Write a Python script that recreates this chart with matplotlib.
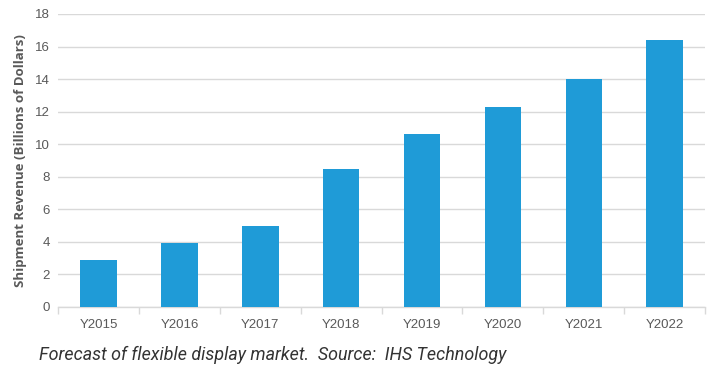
import numpy as np
import matplotlib
matplotlib.use("Agg")
import matplotlib.pyplot as plt
from matplotlib.ticker import FixedLocator

years = ["Y2015", "Y2016", "Y2017", "Y2018", "Y2019", "Y2020", "Y2021", "Y2022"]
revenue = [2.9, 3.9, 5.0, 8.5, 10.6, 12.3, 14.0, 16.4]

bar_color = "#1f9bd7"
grid_color = "#d9d9d9"
text_color = "#595959"

fig = plt.figure(figsize=(7.1, 3.68), dpi=100)
ax = fig.add_axes([0.082, 0.166, 0.911, 0.796])

x = np.arange(len(years))
ax.bar(x, revenue, width=0.45, color=bar_color, zorder=3)

ax.set_xlim(-0.5, len(years) - 0.5)
ax.set_ylim(0, 18)
ax.set_yticks(np.arange(0, 19, 2))
ax.set_xticks(x)
ax.set_xticklabels(years)
ax.xaxis.set_minor_locator(FixedLocator(np.arange(-0.5, len(years), 1)))

ax.grid(axis="y", color=grid_color, linewidth=1, zorder=0)
for s in ["top", "right", "left"]:
    ax.spines[s].set_visible(False)
ax.spines["bottom"].set_color(grid_color)
ax.spines["bottom"].set_linewidth(1)

ax.tick_params(axis="y", length=0, labelsize=9.5, labelcolor=text_color, pad=6)
ax.tick_params(axis="x", which="major", length=0, labelsize=9.5, labelcolor=text_color, pad=9)
ax.tick_params(axis="x", which="minor", length=5, color=grid_color, width=1)
for lab in ax.get_xticklabels() + ax.get_yticklabels():
    lab.set_family("Liberation Sans")

ax.set_ylabel("Shipment Revenue (Billions of Dollars)", fontsize=9.5, fontweight="bold",
              color=text_color, family="Open Sans", labelpad=6)

# caption under the chart
fig.text(0.055, 0.022, "Forecast of flexible display market.  Source:  IHS Technology",
         fontsize=12.9, style="italic", color="#333333", va="baseline",
         family=["Roboto", "DejaVu Sans"])

fig.savefig("out.png", dpi=100)
